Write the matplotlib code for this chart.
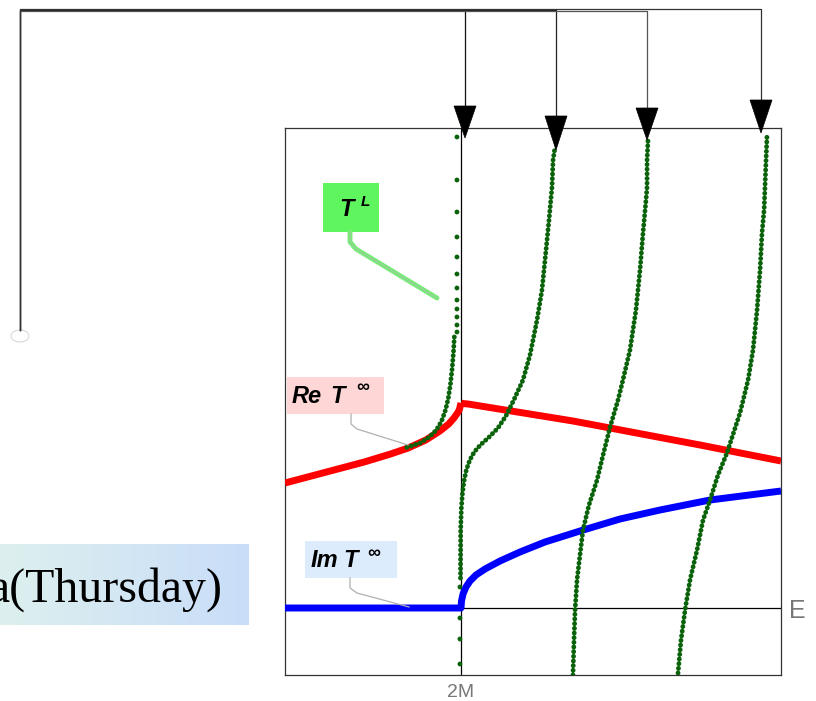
import matplotlib.pyplot as plt
import numpy as np
from matplotlib.patches import Polygon, Rectangle, Ellipse

# energy E (units of M) and amplitude values
re_below_E = [1.0, 1.15, 1.30, 1.45, 1.60, 1.70, 1.80, 1.88, 1.93, 1.96, 1.98, 1.99, 2.0]
re_below_T = [1.25, 1.32, 1.39, 1.46, 1.54, 1.60, 1.68, 1.77, 1.84, 1.90, 1.95, 1.98, 2.05]
re_above_E = [2.0, 2.01, 2.04, 2.636, 3.358, 3.818]
re_above_T = [2.05, 2.045, 2.04, 1.87, 1.63, 1.47]

im_E = [1.0, 2.0, 2.0028, 2.0114, 2.0284, 2.0511, 2.0852, 2.1364, 2.2216, 2.3352,
        2.4773, 2.6761, 2.9034, 3.1307, 3.4148, 3.818]
im_T = [0.0, 0.0, 0.07, 0.14, 0.21, 0.27, 0.33, 0.39, 0.47, 0.56,
        0.66, 0.77, 0.89, 0.98, 1.08, 1.17]

# T^L levels: sparse points sitting on the threshold
tl_sparse_E = [1.977] * 12 + [1.994] * 4
tl_sparse_T = [4.71, 4.28, 3.96, 3.71, 3.51, 3.34, 3.20, 3.08, 2.99, 2.91, 2.83, 2.76,
               0.21, -0.10, -0.31, -0.56]

tl1_E = [1.962, 1.958, 1.950, 1.940, 1.928, 1.912, 1.890, 1.860, 1.820, 1.767, 1.682]
tl1_T = [2.71, 2.58, 2.40, 2.24, 2.10, 1.98, 1.87, 1.78, 1.71, 1.65, 1.60]

tl2_E = [1.997, 1.998, 2.002, 2.008, 2.016, 2.030, 2.050, 2.075, 2.110, 2.160, 2.210,
         2.255, 2.300, 2.352, 2.392, 2.432, 2.460, 2.483, 2.500, 2.517, 2.523, 2.534]
tl2_T = [0.30, 0.78, 1.00, 1.14, 1.26, 1.38, 1.48, 1.56, 1.63, 1.71, 1.80,
         1.92, 2.08, 2.28, 2.53, 2.88, 3.18, 3.58, 3.88, 4.21, 4.48, 4.61]

tl3_E = [2.636, 2.642, 2.648, 2.659, 2.676, 2.693, 2.727, 2.773, 2.807, 2.847, 2.892,
         2.920, 2.960, 2.994, 3.017, 3.034, 3.051, 3.057, 3.057, 3.063]
tl3_T = [-0.67, -0.32, -0.02, 0.28, 0.53, 0.78, 1.03, 1.28, 1.53, 1.81, 2.08,
         2.28, 2.58, 2.98, 3.38, 3.75, 4.08, 4.21, 4.48, 4.70]

tl4_E = [3.233, 3.250, 3.273, 3.301, 3.341, 3.375, 3.415, 3.460, 3.511, 3.585, 3.631,
         3.659, 3.682, 3.699, 3.710, 3.722, 3.727, 3.733, 3.739]
tl4_T = [-0.65, -0.32, -0.02, 0.28, 0.58, 0.88, 1.08, 1.33, 1.55, 1.95, 2.28,
         2.58, 2.98, 3.38, 3.75, 3.98, 4.21, 4.48, 4.75]

GREEN = "#0a620a"
W, H = 816, 701

fig = plt.figure(figsize=(W / 100, H / 100), dpi=100)

# main plot
ax = fig.add_axes([285 / W, 26 / H, 496 / W, 547 / H])
ax.set_xlim(1.0, 3.818)
ax.set_ylim(-0.67, 4.80)
ax.set_xticks([])
ax.set_yticks([])
for s in ax.spines.values():
    s.set_color("#333333")
    s.set_linewidth(0.9)
ax.axvline(2.0, color="black", lw=0.9, zorder=1)
ax.axhline(0.0, color="black", lw=0.9, zorder=1)

ax.plot(re_below_E, re_below_T, color="red", lw=5, solid_capstyle="butt",
        solid_joinstyle="round", zorder=3)
ax.plot(re_above_E, re_above_T, color="red", lw=5, solid_capstyle="butt",
        solid_joinstyle="round", zorder=3)
ax.plot(im_E, im_T, color="blue", lw=5, solid_capstyle="butt",
        solid_joinstyle="round", zorder=3)

dots = dict(color=GREEN, lw=3.5, linestyle=(0, (0.01, 0.95)), dash_capstyle="round", zorder=4)
ax.plot(tl1_E, tl1_T, **dots)
ax.plot(tl2_E, tl2_T, **dots)
ax.plot(tl3_E, tl3_T, **dots)
ax.plot(tl4_E, tl4_T, **dots)
ax.scatter(tl_sparse_E, tl_sparse_T, s=12, color=GREEN, edgecolors="none", zorder=4)

# overlay in pixel coordinates for labels and connectors
ov = fig.add_axes([0, 0, 1, 1], facecolor="none")

# gradient caption box
grad = np.linspace(0, 1, 256).reshape(1, -1)
c0 = np.array([0xdd, 0xf0, 0xee]) / 255
c1 = np.array([0xc9, 0xdd, 0xf9]) / 255
img = c0[None, None, :] * (1 - grad[..., None]) + c1[None, None, :] * grad[..., None]
ov.imshow(img, extent=(0, 249, 625, 544), aspect="auto", zorder=1)
ov.text(222, 602, "a(Thursday)", ha="right", va="baseline",
        family="Liberation Serif", fontsize=34.5, color="black", zorder=2)
ov.set_xlim(0, W)
ov.set_ylim(H, 0)
ov.axis("off")

# connectors from the small ellipse to the arrows
ov.add_patch(Ellipse((20, 336), 18, 12, fill=False, edgecolor="#d8d8d8", lw=0.8))
arrow_x = [465, 556, 647, 761]
arrow_base = [106, 116, 108, 100]
arrow_tip = [138, 150, 140, 133]
line_y = [10, 10, 11, 9]
line_col = ["#111111", "#222222", "#555555", "#333333"]
for x, yb, yt, yl, c in zip(arrow_x, arrow_base, arrow_tip, line_y, line_col):
    ov.plot([20, 20, x, x], [330, yl, yl, yb], color=c, lw=0.9, zorder=3)
    ov.add_patch(Polygon([[x - 11, yb], [x + 11, yb], [x, yt]], closed=True,
                         facecolor="black", edgecolor="black", lw=0.5, zorder=4))

lab = dict(family="Liberation Sans", fontweight="bold", style="italic", color="black",
           va="baseline", zorder=6)

# T^L label
ov.add_patch(Rectangle((323, 183), 56, 49, facecolor="#5ef55e", edgecolor="none", zorder=5))
ov.plot([350, 350, 356, 437], [232, 242, 249, 298], color="#78ec78", lw=3.5,
        solid_capstyle="round", zorder=5)
ov.plot([350, 350, 356, 437], [232, 242, 249, 298], color="#9cc89c", lw=0.8, zorder=5)
ov.text(339, 216, "T", fontsize=17, **lab)
ov.text(361, 206, "L", fontsize=11, **lab)

# Re T label
ov.add_patch(Rectangle((287, 377), 97, 37, facecolor="#ffd6d6", edgecolor="none", zorder=5))
ov.plot([351, 351, 357, 408], [414, 424, 429, 445], color="#b0b0b0", lw=0.9, zorder=5)
ov.text(292, 403, "Re", fontsize=17, **lab)
ov.text(330, 403, "T", fontsize=17, **lab)
ov.text(356, 392, "\u221e", fontsize=13, **lab)

# Im T label
ov.add_patch(Rectangle((305, 541), 92, 37, facecolor="#dcecfc", edgecolor="none", zorder=5))
ov.plot([350, 350, 357, 409], [578, 588, 593, 607], color="#b0b0b0", lw=0.9, zorder=5)
ov.text(311, 567, "Im", fontsize=17, **lab)
ov.text(343, 567, "T", fontsize=17, **lab)
ov.text(367, 558, "\u221e", fontsize=13, **lab)

# axis names
ov.text(797, 618, "E", fontsize=18, family="Liberation Sans", color="#777777",
        ha="center", va="baseline")
ov.text(461, 697, "2M", fontsize=14, family="Liberation Sans", color="#777777",
        ha="center", va="baseline")

fig.savefig("out.png", dpi=100)
